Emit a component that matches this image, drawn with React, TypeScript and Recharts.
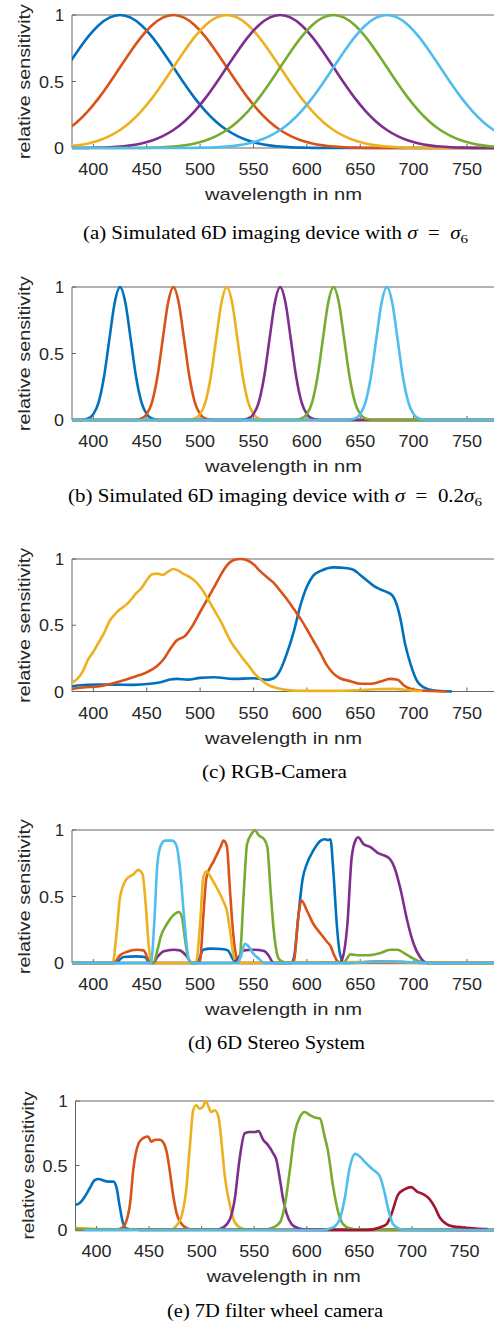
import React from 'react';
import { LineChart, Line, XAxis, YAxis } from 'recharts';

const SANS = "'Liberation Sans', Arial, Helvetica, sans-serif";
const SERIF = "'Liberation Serif', 'Times New Roman', serif";
const INK = '#262626';
const AXIS = '#666666';

const COL = {
  blue: '#0072BD',
  red: '#D95319',
  yellow: '#EDB120',
  purple: '#7E2F8E',
  green: '#77AC30',
  cyan: '#4DBEEE',
  dark: '#A2142F',
};

const X_TICKS = [400, 450, 500, 550, 600, 650, 700, 750];
const Y_TICKS = [0, 0.5, 1];
const X_LABEL = 'wavelength in nm';
const Y_LABEL = 'relative sensitivity';

// ---------- (a) simulated 6D, sigma = sigma6 ----------
const aWl = [375, 385, 395, 405, 415, 425, 435, 445, 455, 465, 475, 485, 495, 505, 515, 525, 535, 545, 555, 565, 575, 585, 595, 605, 615, 625, 635, 645, 655, 665, 675, 685, 695, 705, 715, 725, 735, 745, 755, 765, 775, 785];
const aBlue = [0.607, 0.726, 0.835, 0.923, 0.98, 1, 0.98, 0.923, 0.835, 0.726, 0.607, 0.487, 0.375, 0.278, 0.198, 0.135, 0.089, 0.056, 0.034, 0.02, 0.011, 0.006, 0.003, 0.001, 0, 0, 0, 0, 0, 0, 0, 0, 0, 0, 0, 0, 0, 0, 0, 0, 0, 0];
const aRed = [0.135, 0.198, 0.278, 0.375, 0.487, 0.607, 0.726, 0.835, 0.923, 0.98, 1, 0.98, 0.923, 0.835, 0.726, 0.607, 0.487, 0.375, 0.278, 0.198, 0.135, 0.089, 0.056, 0.034, 0.02, 0.011, 0.006, 0.003, 0.001, 0, 0, 0, 0, 0, 0, 0, 0, 0, 0, 0, 0, 0];
const aYellow = [0.011, 0.02, 0.034, 0.056, 0.089, 0.135, 0.198, 0.278, 0.375, 0.487, 0.607, 0.726, 0.835, 0.923, 0.98, 1, 0.98, 0.923, 0.835, 0.726, 0.607, 0.487, 0.375, 0.278, 0.198, 0.135, 0.089, 0.056, 0.034, 0.02, 0.011, 0.006, 0.003, 0.001, 0, 0, 0, 0, 0, 0, 0, 0];
const aPurple = [0, 0, 0.001, 0.003, 0.006, 0.011, 0.02, 0.034, 0.056, 0.089, 0.135, 0.198, 0.278, 0.375, 0.487, 0.607, 0.726, 0.835, 0.923, 0.98, 1, 0.98, 0.923, 0.835, 0.726, 0.607, 0.487, 0.375, 0.278, 0.198, 0.135, 0.089, 0.056, 0.034, 0.02, 0.011, 0.006, 0.003, 0.001, 0, 0, 0];
const aGreen = [0, 0, 0, 0, 0, 0, 0, 0.001, 0.003, 0.006, 0.011, 0.02, 0.034, 0.056, 0.089, 0.135, 0.198, 0.278, 0.375, 0.487, 0.607, 0.726, 0.835, 0.923, 0.98, 1, 0.98, 0.923, 0.835, 0.726, 0.607, 0.487, 0.375, 0.278, 0.198, 0.135, 0.089, 0.056, 0.034, 0.02, 0.011, 0.006];
const aCyan = [0, 0, 0, 0, 0, 0, 0, 0, 0, 0, 0, 0, 0.001, 0.003, 0.006, 0.011, 0.02, 0.034, 0.056, 0.089, 0.135, 0.198, 0.278, 0.375, 0.487, 0.607, 0.726, 0.835, 0.923, 0.98, 1, 0.98, 0.923, 0.835, 0.726, 0.607, 0.487, 0.375, 0.278, 0.198, 0.135, 0.089];

// ---------- (b) simulated 6D, sigma = 0.2 sigma6 ----------
const bBlueX = [380, 385, 390, 395, 400, 405, 410, 415, 420, 425, 430, 435, 440, 445, 450, 455, 460, 465, 780];
const bBlueY = [0, 0, 0.002, 0.011, 0.044, 0.135, 0.325, 0.607, 0.882, 1, 0.882, 0.607, 0.325, 0.135, 0.044, 0.011, 0.002, 0, 0];
const bRedX = [380, 435, 440, 445, 450, 455, 460, 465, 470, 475, 480, 485, 490, 495, 500, 505, 510, 515, 780];
const bRedY = [0, 0, 0.002, 0.011, 0.044, 0.135, 0.325, 0.607, 0.882, 1, 0.882, 0.607, 0.325, 0.135, 0.044, 0.011, 0.002, 0, 0];
const bYellowX = [380, 485, 490, 495, 500, 505, 510, 515, 520, 525, 530, 535, 540, 545, 550, 555, 560, 565, 780];
const bYellowY = [0, 0, 0.002, 0.011, 0.044, 0.135, 0.325, 0.607, 0.882, 1, 0.882, 0.607, 0.325, 0.135, 0.044, 0.011, 0.002, 0, 0];
const bPurpleX = [380, 535, 540, 545, 550, 555, 560, 565, 570, 575, 580, 585, 590, 595, 600, 605, 610, 615, 780];
const bPurpleY = [0, 0, 0.002, 0.011, 0.044, 0.135, 0.325, 0.607, 0.882, 1, 0.882, 0.607, 0.325, 0.135, 0.044, 0.011, 0.002, 0, 0];
const bGreenX = [380, 585, 590, 595, 600, 605, 610, 615, 620, 625, 630, 635, 640, 645, 650, 655, 660, 665, 780];
const bGreenY = [0, 0, 0.002, 0.011, 0.044, 0.135, 0.325, 0.607, 0.882, 1, 0.882, 0.607, 0.325, 0.135, 0.044, 0.011, 0.002, 0, 0];
const bCyanX = [380, 635, 640, 645, 650, 655, 660, 665, 670, 675, 680, 685, 690, 695, 700, 705, 710, 715, 780];
const bCyanY = [0, 0, 0.002, 0.011, 0.044, 0.135, 0.325, 0.607, 0.882, 1, 0.882, 0.607, 0.325, 0.135, 0.044, 0.011, 0.002, 0, 0];

// ---------- (c) RGB camera ----------
const cBlueX = [380, 385, 394, 406, 420, 438, 453, 463, 472, 478, 488, 500, 513, 531, 550, 563, 569, 575, 581, 588, 594, 600, 606, 613, 625, 638, 644, 650, 656, 663, 669, 675, 680, 685, 688, 692, 697, 703, 709, 719, 736];
const cBlueY = [0.038, 0.045, 0.05, 0.053, 0.052, 0.05, 0.058, 0.07, 0.09, 0.095, 0.09, 0.103, 0.108, 0.095, 0.1, 0.088, 0.1, 0.16, 0.28, 0.46, 0.65, 0.79, 0.875, 0.91, 0.937, 0.93, 0.917, 0.88, 0.84, 0.795, 0.77, 0.75, 0.725, 0.635, 0.535, 0.36, 0.21, 0.083, 0.033, 0.008, 0];
const cRedX = [380, 390, 406, 422, 438, 450, 460, 466, 472, 478, 486, 492, 500, 506, 513, 519, 525, 531, 538, 544, 550, 556, 563, 569, 575, 581, 588, 594, 600, 606, 613, 619, 625, 631, 641, 650, 660, 669, 678, 685, 691, 697, 706, 731];
const cRedY = [0.02, 0.03, 0.04, 0.07, 0.11, 0.145, 0.195, 0.245, 0.32, 0.385, 0.42, 0.485, 0.6, 0.685, 0.785, 0.875, 0.95, 0.99, 1.0, 0.99, 0.96, 0.91, 0.86, 0.82, 0.76, 0.7, 0.62, 0.55, 0.47, 0.385, 0.285, 0.195, 0.135, 0.1, 0.078, 0.058, 0.058, 0.075, 0.095, 0.088, 0.045, 0.02, 0.008, 0];
const cYellowX = [380, 385, 390, 395, 400, 405, 410, 415, 420, 425, 430, 435, 440, 445, 450, 455, 460, 465, 470, 475, 480, 485, 490, 495, 500, 505, 510, 515, 520, 525, 530, 535, 540, 545, 550, 555, 560, 565, 570, 580, 590, 600, 620, 640, 660, 680, 690, 700, 708];
const cYellowY = [0.065, 0.095, 0.15, 0.24, 0.3, 0.37, 0.44, 0.53, 0.58, 0.62, 0.65, 0.69, 0.74, 0.78, 0.84, 0.885, 0.89, 0.88, 0.905, 0.925, 0.91, 0.885, 0.865, 0.835, 0.79, 0.73, 0.66, 0.59, 0.52, 0.435, 0.36, 0.305, 0.25, 0.2, 0.145, 0.105, 0.07, 0.045, 0.03, 0.012, 0.006, 0.005, 0.005, 0.008, 0.015, 0.02, 0.015, 0.006, 0.004];

// ---------- (d) 6D stereo system ----------
const dBlueX = [380, 420, 424, 428, 440, 448, 452, 456, 495, 499, 503, 510, 520, 526, 530, 534, 585, 588, 592, 596, 600, 606, 613, 617, 620, 622, 625, 628, 631, 635, 650, 670, 690, 710, 780];
const dBlueY = [0, 0, 0.02, 0.045, 0.05, 0.045, 0.015, 0, 0, 0.03, 0.1, 0.108, 0.105, 0.095, 0.04, 0, 0, 0.045, 0.35, 0.63, 0.745, 0.845, 0.92, 0.93, 0.925, 0.93, 0.67, 0.295, 0.07, 0, 0.005, 0.01, 0.008, 0, 0];
const dRedX = [380, 419, 425, 431, 441, 447, 452, 455, 498, 500, 503, 506, 513, 519, 522, 525, 528, 531, 535, 538, 586, 588, 592, 595, 600, 606, 613, 619, 622, 625, 628, 632, 780];
const dRedY = [0, 0, 0.058, 0.083, 0.1, 0.095, 0.02, 0, 0, 0.02, 0.35, 0.645, 0.77, 0.87, 0.92, 0.88, 0.545, 0.22, 0.02, 0, 0, 0.02, 0.345, 0.47, 0.395, 0.295, 0.22, 0.158, 0.13, 0.07, 0.02, 0, 0];
const dYellowX = [380, 418, 422, 425, 431, 438, 442, 446, 449, 452, 455, 496, 500, 503, 506, 510, 516, 522, 525, 528, 531, 535, 540, 600, 650, 680, 700, 780];
const dYellowY = [0, 0, 0.245, 0.495, 0.63, 0.67, 0.7, 0.67, 0.445, 0.12, 0, 0, 0.295, 0.645, 0.69, 0.645, 0.56, 0.46, 0.395, 0.245, 0.07, 0, 0, 0.004, 0.008, 0.008, 0.004, 0];
const dPurpleX = [380, 456, 460, 466, 475, 481, 488, 492, 530, 534, 541, 550, 560, 564, 569, 630, 632, 638, 642, 646, 648, 653, 660, 666, 672, 678, 682, 688, 694, 700, 706, 713, 780];
const dPurpleY = [0, 0, 0.045, 0.088, 0.1, 0.095, 0.045, 0, 0, 0.02, 0.095, 0.1, 0.09, 0.058, 0, 0, 0.01, 0.295, 0.795, 0.93, 0.945, 0.895, 0.87, 0.83, 0.81, 0.78, 0.72, 0.545, 0.32, 0.145, 0.045, 0, 0];
const dGreenX = [380, 456, 460, 463, 469, 475, 480, 483, 486, 489, 493, 534, 537, 541, 544, 549, 551, 555, 560, 563, 566, 569, 572, 575, 582, 634, 641, 647, 657, 669, 678, 685, 691, 700, 707, 713, 780];
const dGreenY = [0, 0, 0.095, 0.195, 0.295, 0.36, 0.383, 0.345, 0.17, 0.03, 0, 0, 0.03, 0.545, 0.895, 0.98, 1.0, 0.96, 0.93, 0.87, 0.545, 0.245, 0.07, 0.02, 0, 0, 0.065, 0.058, 0.058, 0.075, 0.1, 0.1, 0.075, 0.033, 0.008, 0, 0];
const dCyanX = [380, 454, 457, 460, 463, 467, 474, 478, 481, 485, 488, 491, 535, 538, 542, 546, 550, 555, 560, 640, 660, 680, 700, 720, 780];
const dCyanY = [0, 0, 0.295, 0.745, 0.88, 0.92, 0.92, 0.88, 0.72, 0.345, 0.095, 0, 0, 0.045, 0.145, 0.12, 0.07, 0.033, 0, 0, 0.008, 0.01, 0.005, 0, 0];

// ---------- (e) 7D filter wheel camera ----------
const eBlueX = [380, 384, 389, 394, 398, 402, 406, 411, 416, 419, 422, 425, 428, 435, 780];
const eBlueY = [0.195, 0.21, 0.26, 0.33, 0.385, 0.395, 0.385, 0.375, 0.375, 0.33, 0.185, 0.06, 0.013, 0.003, 0];
const eRedX = [380, 420, 425, 428, 432, 435, 440, 444, 449, 452, 456, 460, 463, 467, 470, 473, 476, 481, 486, 492, 780];
const eRedY = [0.005, 0.005, 0.02, 0.06, 0.21, 0.47, 0.67, 0.71, 0.725, 0.685, 0.7, 0.7, 0.685, 0.595, 0.44, 0.265, 0.135, 0.046, 0.013, 0.003, 0];
const eYellowX = [380, 400, 470, 476, 481, 485, 489, 492, 495, 498, 501, 504, 506, 509, 512.5, 516, 519, 522, 527, 531.5, 538, 545, 780];
const eYellowY = [0.015, 0.008, 0.002, 0.033, 0.11, 0.29, 0.67, 0.93, 0.967, 0.94, 0.954, 1.0, 0.967, 0.915, 0.928, 0.877, 0.67, 0.417, 0.187, 0.06, 0.013, 0.003, 0];
const ePurpleX = [380, 514, 520.5, 527, 531.5, 536, 541, 546, 551, 554, 558.5, 563, 568, 571, 574.5, 577.5, 581, 585.5, 592, 600, 780];
const ePurpleY = [0, 0.003, 0.02, 0.085, 0.24, 0.545, 0.75, 0.76, 0.76, 0.767, 0.7, 0.66, 0.595, 0.545, 0.39, 0.24, 0.123, 0.046, 0.013, 0.003, 0];
const eGreenX = [380, 562, 568, 574.5, 579, 584, 588.5, 593.5, 598, 603, 607.5, 612.5, 617, 620, 625, 630, 634.5, 641, 650, 780];
const eGreenY = [0.005, 0.005, 0.02, 0.06, 0.187, 0.47, 0.75, 0.877, 0.915, 0.89, 0.872, 0.864, 0.724, 0.62, 0.34, 0.135, 0.046, 0.013, 0.003, 0.002];
const eCyanX = [388, 615, 625, 631.5, 636, 641, 646, 650.5, 655, 660, 665, 669.5, 674, 677.5, 682, 688.5, 695, 780];
const eCyanY = [0, 0, 0.02, 0.085, 0.24, 0.49, 0.59, 0.57, 0.53, 0.49, 0.455, 0.417, 0.29, 0.16, 0.046, 0.008, 0, 0];
const eDarkX = [440, 657, 669.5, 676, 680.5, 687, 693, 699.5, 704.5, 711, 717, 722, 726.5, 733, 739, 749, 758, 768, 772];
const eDarkY = [0, 0, 0.02, 0.046, 0.123, 0.276, 0.315, 0.332, 0.3, 0.276, 0.238, 0.174, 0.097, 0.046, 0.028, 0.02, 0.013, 0.008, 0.007];

const CAP_A = '(a) Simulated 6D imaging device with ';
const CAP_B = '(b) Simulated 6D imaging device with ';
const CAP_C = '(c) RGB-Camera';
const CAP_D = '(d) 6D Stereo System';
const CAP_E = '(e) 7D filter wheel camera';

type Series = { color: string; x: number[]; y: number[] };

const pts = (x: number[], y: number[]) => x.map((v, i) => ({ x: v, y: y[i] }));

const XTick = (props: any) => {
  const { x, y, payload } = props;
  return (
    <text x={x} y={y} dy={11} textAnchor="middle" fontFamily={SANS} fontSize={16.5} fill={INK}
      textLength={30} lengthAdjust="spacingAndGlyphs">{String(payload.value)}</text>
  );
};

const Y_TICK_LEN: Record<string, number> = { '0': 10, '0.5': 25, '1': 9 };
const YTick = (props: any) => {
  const { x, y, payload } = props;
  const s = String(payload.value);
  return (
    <text x={x} y={y} dy={6} textAnchor="end" fontFamily={SANS} fontSize={16.5} fill={INK}
      textLength={Y_TICK_LEN[s] || 10} lengthAdjust="spacingAndGlyphs">{s}</text>
  );
};

const makeXLabel = (len: number) => (props: any) => {
  const vb = props.viewBox || {};
  return (
    <text x={vb.x + vb.width / 2 - 2} y={vb.y + 52} textAnchor="middle" fontFamily={SANS} fontSize={17}
      fill={INK} textLength={len} lengthAdjust="spacingAndGlyphs">{X_LABEL}</text>
  );
};

const makeYLabel = (len: number) => (props: any) => {
  const vb = props.viewBox || {};
  const cx = vb.x + vb.width - 42;
  const cy = vb.y + vb.height / 2;
  return (
    <text x={cx} y={cy} transform={`rotate(-90, ${cx}, ${cy})`} textAnchor="middle" fontFamily={SANS}
      fontSize={17} fill={INK} textLength={len} lengthAdjust="spacingAndGlyphs">{Y_LABEL}</text>
  );
};

type PanelProps = { top: number; h: number; left: number; w: number; series: Series[]; xLen: number; yLen: number };

const PAD_TOP = 25;

function Panel({ top, h, left, w, series, xLen, yLen }: PanelProps) {
  const chartH = PAD_TOP + h + 70;
  return (
    <div style={{ position: 'absolute', left: 0, top: top - PAD_TOP }}>
      <LineChart width={w} height={chartH} margin={{ top: PAD_TOP - 1, right: 0, bottom: 0, left: 0 }}>
        <XAxis xAxisId="t" orientation="top" type="number" dataKey="x" domain={[380, 780]} ticks={X_TICKS}
          height={1} tick={false} tickSize={-4} stroke={AXIS} allowDataOverflow interval={0} />
        <XAxis xAxisId="b" orientation="bottom" type="number" dataKey="x" domain={[380, 780]} ticks={X_TICKS}
          height={70} tick={XTick} tickSize={-4} tickMargin={20} stroke={AXIS} allowDataOverflow interval={0}
          label={makeXLabel(xLen)} />
        <YAxis yAxisId="l" type="number" domain={[0, 1]} ticks={Y_TICKS} width={left} tick={YTick}
          tickSize={-4} tickMargin={12} stroke={AXIS} interval={0} label={makeYLabel(yLen)} />
        <YAxis yAxisId="r" orientation="right" type="number" domain={[0, 1]} ticks={Y_TICKS} width={1}
          tick={false} tickSize={-4} stroke={AXIS} interval={0} />
        {series.map((s, i) => (
          <Line key={i} xAxisId="b" yAxisId="l" data={pts(s.x, s.y)} dataKey="y" type="monotone"
            stroke={s.color} strokeWidth={2.6} dot={false} activeDot={false} isAnimationActive={false}
            {...({ zIndex: 700 + i } as any)} />
        ))}
      </LineChart>
    </div>
  );
}

function Caption({ baseline, cx, len, children }: { baseline: number; cx: number; len: number; children: React.ReactNode }) {
  return (
    <svg style={{ position: 'absolute', left: 0, top: baseline - 22 }} width={494} height={30}>
      <text x={cx} y={22} textAnchor="middle" fontFamily={SERIF} fontSize={18} fill="#000"
        textLength={len} lengthAdjust="spacingAndGlyphs">{children}</text>
    </svg>
  );
}

const seriesA: Series[] = [
  { color: COL.blue, x: aWl, y: aBlue },
  { color: COL.red, x: aWl, y: aRed },
  { color: COL.yellow, x: aWl, y: aYellow },
  { color: COL.purple, x: aWl, y: aPurple },
  { color: COL.green, x: aWl, y: aGreen },
  { color: COL.cyan, x: aWl, y: aCyan },
];
const seriesB: Series[] = [
  { color: COL.blue, x: bBlueX, y: bBlueY },
  { color: COL.red, x: bRedX, y: bRedY },
  { color: COL.yellow, x: bYellowX, y: bYellowY },
  { color: COL.purple, x: bPurpleX, y: bPurpleY },
  { color: COL.green, x: bGreenX, y: bGreenY },
  { color: COL.cyan, x: bCyanX, y: bCyanY },
];
const seriesC: Series[] = [
  { color: COL.blue, x: cBlueX, y: cBlueY },
  { color: COL.red, x: cRedX, y: cRedY },
  { color: COL.yellow, x: cYellowX, y: cYellowY },
];
const seriesD: Series[] = [
  { color: COL.blue, x: dBlueX, y: dBlueY },
  { color: COL.red, x: dRedX, y: dRedY },
  { color: COL.yellow, x: dYellowX, y: dYellowY },
  { color: COL.purple, x: dPurpleX, y: dPurpleY },
  { color: COL.green, x: dGreenX, y: dGreenY },
  { color: COL.cyan, x: dCyanX, y: dCyanY },
];
const seriesE: Series[] = [
  { color: COL.blue, x: eBlueX, y: eBlueY },
  { color: COL.red, x: eRedX, y: eRedY },
  { color: COL.yellow, x: eYellowX, y: eYellowY },
  { color: COL.purple, x: ePurpleX, y: ePurpleY },
  { color: COL.green, x: eGreenX, y: eGreenY },
  { color: COL.dark, x: eDarkX, y: eDarkY },
  { color: COL.cyan, x: eCyanX, y: eCyanY },
];

const sig = <tspan fontStyle="italic">σ</tspan>;

export default function App() {
  return (
    <div style={{ position: 'absolute', left: 0, top: 0, width: 494, height: 1322, overflow: 'hidden', background: '#fff' }}>
      <Panel top={15} h={133} left={72} w={500} series={seriesA} xLen={157} yLen={155} />
      <Caption baseline={239} cx={275.5} len={385}>
        {CAP_A}{sig}{'\u2002=\u2002'}{sig}<tspan dy={3.5} fontSize={13}>6</tspan>
      </Caption>

      <Panel top={287} h={133} left={72} w={500} series={seriesB} xLen={157} yLen={155} />
      <Caption baseline={501.5} cx={275} len={414}>
        {CAP_B}{sig}{'\u2002=\u20020.2'}{sig}<tspan dy={3.5} fontSize={13}>6</tspan>
      </Caption>

      <Panel top={558.5} h={132.5} left={72} w={500} series={seriesC} xLen={157} yLen={155} />
      <Caption baseline={777.5} cx={274.5} len={145}>{CAP_C}</Caption>

      <Panel top={829.5} h={133} left={72} w={500} series={seriesD} xLen={157} yLen={155} />
      <Caption baseline={1049} cx={276.5} len={177}>{CAP_D}</Caption>

      <Panel top={1101} h={129} left={75.5} w={497} series={seriesE} xLen={154} yLen={148} />
      <Caption baseline={1316.5} cx={275} len={216}>{CAP_E}</Caption>
    </div>
  );
}
